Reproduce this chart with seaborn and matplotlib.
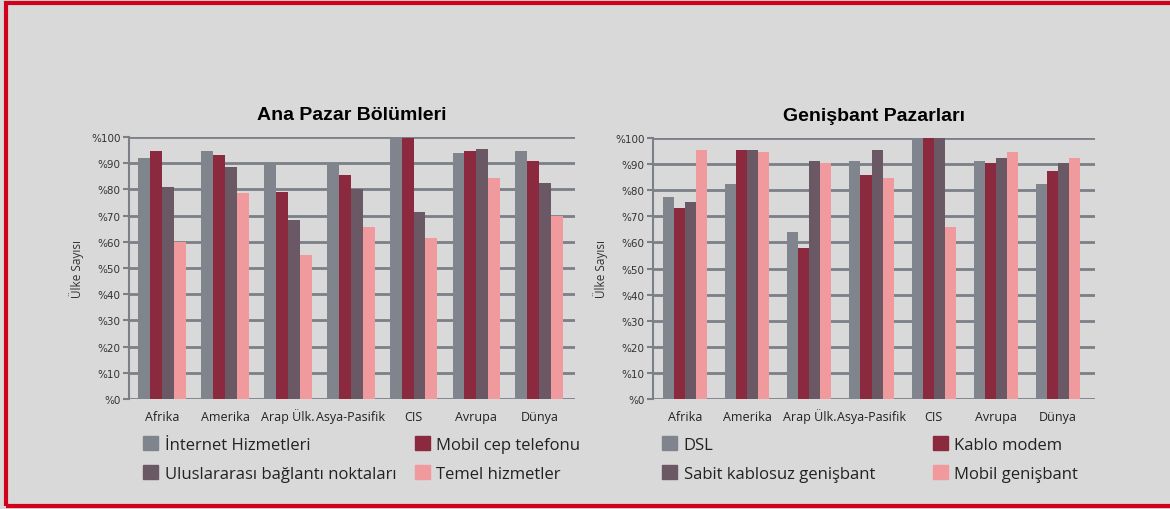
import matplotlib
matplotlib.use("Agg")
import matplotlib.pyplot as plt
from matplotlib.patches import Patch, Rectangle
import seaborn as sns
import pandas as pd

regions = ["Afrika", "Amerika", "Arap Ülk.", "Asya-Pasifik", "CIS", "Avrupa", "Dünya"]

# Ana Pazar Bölümleri
ana_series = ["İnternet Hizmetleri", "Mobil cep telefonu",
              "Uluslararası bağlantı noktaları", "Temel hizmetler"]
internet = [92, 94.5, 90, 90, 100, 94, 94.5]
mobil_cep = [94.5, 93, 79, 85.5, 99.7, 94.5, 91]
uluslararasi = [81, 88.5, 68.5, 80, 71.5, 95.5, 82.5]
temel = [60, 78.5, 55, 65.5, 61.5, 84.5, 70]

# Genişbant Pazarları
gen_series = ["DSL", "Kablo modem", "Sabit kablosuz genişbant", "Mobil genişbant"]
dsl = [77.5, 82.5, 64, 91, 100, 91, 82.5]
kablo = [73, 95.5, 58, 86, 100, 90.5, 87.5]
sabit = [75.5, 95.5, 91, 95.5, 100, 92.5, 90.5]
mobil_gen = [95.5, 94.5, 90.5, 84.5, 66, 94.5, 92.5]

colors = ["#7f848d", "#8b2a3e", "#6b5865", "#f09a9e"]
bg = "#d9d9d9"
grid_c = "#7b7f87"


def long_df(series_names, values):
    rows = []
    for name, vals in zip(series_names, values):
        for r, v in zip(regions, vals):
            rows.append({"Bölge": r, "Seri": name, "Değer": v})
    return pd.DataFrame(rows)


ana_df = long_df(ana_series, [internet, mobil_cep, uluslararasi, temel])
gen_df = long_df(gen_series, [dsl, kablo, sabit, mobil_gen])

sns.set_theme(style="white")
plt.rcParams["font.family"] = ["Liberation Sans", "DejaVu Sans"]

fig = plt.figure(figsize=(11.7, 5.1), dpi=100, facecolor=bg)
ax1 = fig.add_axes([129 / 1170, 1 - 400 / 510, 446 / 1170, 262 / 510])
ax2 = fig.add_axes([653 / 1170, 1 - 400 / 510, 442 / 1170, 261 / 510])


def draw(ax, df, names, title, width, xlim):
    ax.set_facecolor(bg)
    sns.barplot(data=df, x="Bölge", y="Değer", hue="Seri", hue_order=names,
                palette=colors, width=width, saturation=1, ax=ax,
                errorbar=None, legend=False, linewidth=0)
    ax.set_axisbelow(True)
    ax.set_ylim(0, 100)
    ax.set_xlim(*xlim)
    ax.set_yticks(range(0, 101, 10))
    ax.set_yticklabels([f"%{v}" for v in range(0, 101, 10)],
                       fontsize=7.5, color="#333333", family="DejaVu Sans")
    ax.yaxis.grid(True, color=grid_c, linewidth=2)
    ax.xaxis.grid(False)
    for s in ["top", "right", "bottom"]:
        ax.spines[s].set_visible(False)
    ax.spines["left"].set_color(grid_c)
    ax.spines["left"].set_linewidth(1.5)
    ax.tick_params(axis="y", left=True, length=4, width=1.5, color=grid_c, pad=2)
    ax.tick_params(axis="x", bottom=False, pad=9)
    for lab in ax.get_xticklabels():
        lab.set_fontsize(9)
        lab.set_family("Open Sans")
        lab.set_color("#222222")
        lab.set_verticalalignment("baseline")
    ax.set_xlabel("")
    ax.set_ylabel("Ülke Sayısı", fontsize=8.5, color="#333333", labelpad=5,
                  family="Open Sans")
    ax.set_title(title, fontsize=14, fontweight="bold", pad=13, color="black")

    handles = [Patch(color=colors[i], label=names[i]) for i in (0, 2, 1, 3)]
    return handles


h1 = draw(ax1, ana_df, ana_series, "Ana Pazar Bölümleri", 0.76, (-0.53, 6.57))
h2 = draw(ax2, gen_df, gen_series, "Genişbant Pazarları", 0.71, (-0.52, 6.6))

leg_kw = dict(ncol=2, frameon=False, handlelength=0.9, handleheight=0.9,
              handletextpad=0.4, labelspacing=0.75,
              prop={"family": "Open Sans", "size": 12})
fig.legend(handles=h1, loc="upper left", bbox_to_anchor=(128 / 1170, 1 - 422 / 510),
           columnspacing=1.1, labelcolor="#222222", **leg_kw)
fig.legend(handles=h2, loc="upper left", bbox_to_anchor=(647 / 1170, 1 - 422 / 510),
           columnspacing=3.45, labelcolor="#222222", **leg_kw)

# red frame
fig.patches.append(Rectangle((6 / 1170, 3 / 510), 1.2, 1 - 7 / 510, transform=fig.transFigure,
                             fill=False, edgecolor="#d0021b", linewidth=3))

fig.savefig("out.png", dpi=100, facecolor=bg)
